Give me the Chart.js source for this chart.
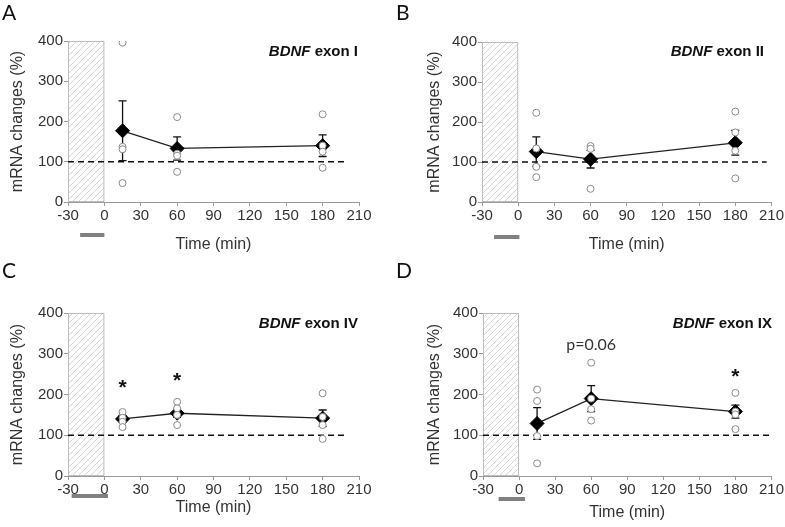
<!DOCTYPE html>
<html lang="en">
<head>
<meta charset="UTF-8">
<title>BDNF exon mRNA changes</title>
<script src="https://cdn.jsdelivr.net/npm/chart.js"></script>
<style>
    body {
        margin: 0;
        background: #fff;
        font-family: "Liberation Sans", Arial, sans-serif;
    }
    .wrap {
        position: relative;
        width: 785px;
        height: 527px;
    }
    .panel {
        position: absolute;
    }
    .letter {
        position: absolute;
        font-family: Lato, "Open Sans", sans-serif;
        font-size: 21px;
        line-height: 1;
        color: #111;
    }
    .gene {
        position: absolute;
        font-weight: bold;
        font-size: 15px;
        line-height: 1;
        color: #111;
        white-space: nowrap;
    }
</style>
</head>
<body>
<div class="wrap">
    <div class="panel" style="left:0;top:0"><canvas id="chartA" width="392" height="260"></canvas></div>
    <div class="panel" style="left:392px;top:0"><canvas id="chartB" width="393" height="260"></canvas></div>
    <div class="panel" style="left:0;top:260px"><canvas id="chartC" width="392" height="267"></canvas></div>
    <div class="panel" style="left:392px;top:260px"><canvas id="chartD" width="393" height="267"></canvas></div>

    <div class="letter" style="left:2px;top:1px">A</div>
    <div class="letter" style="left:396px;top:1px">B</div>
    <div class="letter" style="left:2px;top:259px">C</div>
    <div class="letter" style="left:396px;top:259px">D</div>

    <div class="gene" style="right:427px;top:43px"><i>BDNF</i> exon I</div>
    <div class="gene" style="right:21px;top:43px"><i>BDNF</i> exon II</div>
    <div class="gene" style="right:427px;top:315px"><i>BDNF</i> exon IV</div>
    <div class="gene" style="right:13px;top:315px"><i>BDNF</i> exon IX</div>
</div>

<script>
    Chart.defaults.font.family = '"Liberation Sans", Arial, sans-serif';

    // time points (min)
    const times = [15, 60, 180];
    const xTicks = [-30, 0, 30, 60, 90, 120, 150, 180, 210];
    const yTicks = [0, 100, 200, 300, 400];
    const hatchRange = [-30, 0];
    const refLevel = 100;

    // exon I
    const meanA = [177, 133, 140];
    const errA = [74, 29, 27];
    const ptsA = [[396, 137, 131, 47], [211, 120, 115, 75], [218, 140, 125, 85]];
    // exon II
    const meanB = [126, 107, 148];
    const errB = [37, 22, 31];
    const ptsB = [[223, 134, 88, 62], [140, 133, 33], [226, 174, 128, 59]];
    // exon IV
    const meanC = [140, 154, 142];
    const errC = [8, 10, 20];
    const ptsC = [[157, 143, 133, 120], [182, 166, 150, 125], [203, 145, 125, 91]];
    // exon IX
    const meanD = [129, 190, 158];
    const errD = [39, 32, 16];
    const ptsD = [[212, 184, 98, 31], [278, 190, 164, 136], [204, 158, 151, 115]];

    // stimulus bar under the axis and dashed line end, per panel
    const barA = [-20, 0], barB = [-20, 1], barC = [-27, 3], barD = [-17, 5];
    const refEnd = [200, 206, 200, 210];

    // significance marks
    const notesC = [{x: 15, y: 225, text: '*'}, {x: 60, y: 242, text: '*'}];
    const notesD = [{x: 60, y: 323, text: 'p=0.06'}, {x: 180, y: 253, text: '*'}];

    const axisGray = '#9a9a9a';
    const textCol = '#333';

    const bgPlugin = {
        id: 'bg',
        beforeDatasetsDraw(chart, args, o) {
            const {ctx} = chart;
            const x = chart.scales.x, y = chart.scales.y;
            // hatched box
            const hx0 = x.getPixelForValue(hatchRange[0]);
            const hx1 = x.getPixelForValue(hatchRange[1]);
            const hy0 = y.getPixelForValue(400), hy1 = y.getPixelForValue(0);
            ctx.save();
            ctx.beginPath();
            ctx.rect(hx0, hy0, hx1 - hx0, hy1 - hy0);
            ctx.clip();
            ctx.strokeStyle = '#d0d0d0';
            ctx.lineWidth = 0.9;
            for (let k = -200; k < 200; k += 6) {
                ctx.beginPath();
                ctx.moveTo(hx0 + k, hy1);
                ctx.lineTo(hx0 + k + (hy1 - hy0), hy0);
                ctx.stroke();
            }
            ctx.restore();
            ctx.save();
            ctx.strokeStyle = '#bdbdbd';
            ctx.lineWidth = 1;
            ctx.strokeRect(hx0 + 0.5, hy0 + 0.5, hx1 - hx0 - 1, hy1 - hy0 - 1);
            // dashed 100% line
            const ry = y.getPixelForValue(refLevel);
            ctx.strokeStyle = '#111';
            ctx.lineWidth = 1.4;
            ctx.setLineDash([6, 4]);
            ctx.beginPath();
            ctx.moveTo(x.getPixelForValue(-30), ry);
            ctx.lineTo(x.getPixelForValue(o.refEnd), ry);
            ctx.stroke();
            ctx.setLineDash([]);
            // error bars
            ctx.strokeStyle = '#111';
            ctx.lineWidth = 1.3;
            o.means.forEach((m, i) => {
                const px = x.getPixelForValue(times[i]);
                const top = y.getPixelForValue(m + o.errs[i]);
                const bot = y.getPixelForValue(m - o.errs[i]);
                ctx.beginPath();
                ctx.moveTo(px, top); ctx.lineTo(px, bot);
                ctx.moveTo(px - 4, top); ctx.lineTo(px + 4, top);
                ctx.moveTo(px - 4, bot); ctx.lineTo(px + 4, bot);
                ctx.stroke();
            });
            ctx.restore();
        },
        afterDraw(chart, args, o) {
            const {ctx} = chart;
            const x = chart.scales.x, y = chart.scales.y;
            ctx.save();
            // gray stimulus bar
            ctx.fillStyle = '#808080';
            const b0 = x.getPixelForValue(o.bar[0]), b1 = x.getPixelForValue(o.bar[1]);
            ctx.fillRect(b0, o.barY - 2, b1 - b0, 4);
            // stars / p value
            ctx.textAlign = 'center';
            ctx.textBaseline = 'middle';
            o.notes.forEach(n => {
                const px = x.getPixelForValue(n.x);
                const py = y.getPixelForValue(n.y);
                if (n.text === '*') {
                    ctx.font = 'bold 21px "Liberation Sans", Arial';
                    ctx.fillStyle = '#111';
                    ctx.fillText(n.text, px, py + 4);
                } else {
                    ctx.font = '16px Lato, "Open Sans", sans-serif';
                    ctx.fillStyle = textCol;
                    ctx.fillText(n.text, px, py);
                }
            });
            ctx.restore();
        }
    };

    function makePanel(id, means, errs, pts, bar, rEnd, notes, L) {
        const canvas = document.getElementById(id);
        const W = canvas.width, H = canvas.height;
        const indiv = [];
        times.forEach((t, i) => pts[i].forEach(v => indiv.push({x: t, y: v})));

        return new Chart(canvas, {
            type: 'scatter',
            data: {
                datasets: [
                    {
                        type: 'scatter',
                        data: indiv,
                        pointStyle: 'circle',
                        pointRadius: 3.5,
                        pointBackgroundColor: '#fff',
                        pointBorderColor: '#8a8a8a',
                        pointBorderWidth: 1,
                        order: 0
                    },
                    {
                        type: 'line',
                        data: times.map((t, i) => ({x: t, y: means[i]})),
                        borderColor: '#222',
                        borderWidth: 1.3,
                        pointStyle: 'rectRot',
                        pointRadius: 7,
                        pointBackgroundColor: '#000',
                        pointBorderColor: '#000',
                        pointBorderWidth: 1,
                        tension: 0,
                        order: 1
                    }
                ]
            },
            options: {
                responsive: false,
                animation: false,
                devicePixelRatio: 1,
                layout: {padding: {left: 0, top: L.top, right: W - L.right, bottom: 0}},
                plugins: {
                    legend: {display: false},
                    tooltip: {enabled: false},
                    bg: {means: means, errs: errs, bar: bar, barY: L.barY, refEnd: rEnd, notes: notes}
                },
                scales: {
                    x: {
                        type: 'linear',
                        min: -30,
                        max: 210,
                        afterBuildTicks: s => { s.ticks = xTicks.map(v => ({value: v})); },
                        ticks: {color: textCol, font: {size: 15}, padding: 1, maxRotation: 0, autoSkip: false},
                        grid: {drawOnChartArea: false, tickLength: 4, tickColor: axisGray},
                        border: {color: axisGray},
                        title: {display: true, text: 'Time (min)', color: textCol, font: {size: 16},
                                padding: {top: 0, bottom: L.xTitlePad}},
                        afterFit: s => { s.height = H - L.bottom; }
                    },
                    y: {
                        min: 0,
                        max: 400,
                        afterBuildTicks: s => { s.ticks = yTicks.map(v => ({value: v})); },
                        ticks: {color: textCol, font: {size: 15}, padding: 1},
                        grid: {drawOnChartArea: false, tickLength: 4, tickColor: axisGray},
                        border: {color: axisGray},
                        title: {display: true, text: 'mRNA changes (%)', color: textCol, font: {size: 16},
                                padding: {top: L.yTitlePad, bottom: 0}},
                        afterFit: s => { s.width = L.left; }
                    }
                }
            },
            plugins: [bgPlugin]
        });
    }

    makePanel('chartA', meanA, errA, ptsA, barA, refEnd[0], [],
        {left: 68, right: 359, top: 41, bottom: 202, barY: 235, xTitlePad: 5.4, yTitlePad: 8.4});
    makePanel('chartB', meanB, errB, ptsB, barB, refEnd[1], [],
        {left: 90, right: 380, top: 42, bottom: 202, barY: 237, xTitlePad: 5.4, yTitlePad: 33.4});
    makePanel('chartC', meanC, errC, ptsC, barC, refEnd[2], notesC,
        {left: 68, right: 359, top: 53, bottom: 216, barY: 236, xTitlePad: 9.4, yTitlePad: 8.4});
    makePanel('chartD', meanD, errD, ptsD, barD, refEnd[3], notesD,
        {left: 91, right: 380, top: 53, bottom: 216, barY: 239, xTitlePad: 4.4, yTitlePad: 33.4});
</script>
</body>
</html>
